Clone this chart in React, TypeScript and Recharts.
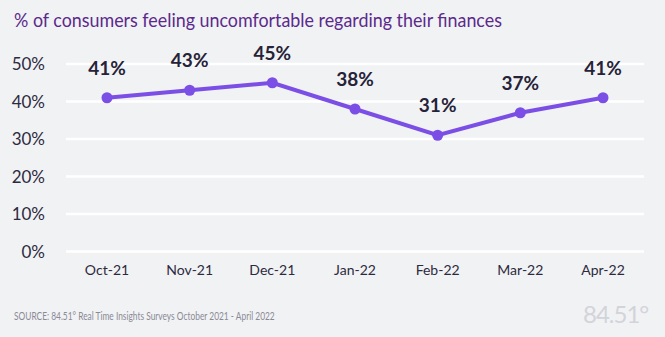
import React from "react";
import { LineChart, Line, XAxis, YAxis, CartesianGrid, LabelList } from "recharts";

const months = ["Oct-21", "Nov-21", "Dec-21", "Jan-22", "Feb-22", "Mar-22", "Apr-22"];
const uncomfortable = [41, 43, 45, 38, 31, 37, 41];
const yTicks = [0, 10, 20, 30, 40, 50];

const data = months.map((m, i) => ({ month: m, value: uncomfortable[i] }));

const FONT = "Lato, 'Open Sans', sans-serif";

export default function App() {
  return (
    <div style={{ position: "absolute", left: 0, top: 0, width: 665, height: 337, background: "#f1f2f4", overflow: "hidden", fontFamily: FONT }}>
      <div style={{ position: "absolute", left: 14, top: 8, fontSize: 19, color: "#5b2a8c", whiteSpace: "nowrap", transform: "scaleX(0.94)", transformOrigin: "left top" }}>
        % of consumers feeling uncomfortable regarding their finances
      </div>
      <LineChart width={665} height={337} data={data} margin={{ top: 64, right: 21, bottom: 55.5, left: 0 }} style={{ position: "absolute", left: 0, top: 0 }}>
        <CartesianGrid horizontal vertical={false} stroke="#ffffff" strokeWidth={2.5} />
        <XAxis dataKey="month" axisLine={false} tickLine={false} padding={{ left: 41, right: 41 }} height={30} tickMargin={8}
          tick={{ fill: "#2d2a40", fontSize: 14, fontFamily: FONT }} interval={0} />
        <YAxis domain={[0, 50]} ticks={yTicks} axisLine={false} tickLine={false} width={66} tickMargin={15}
          tickFormatter={(v) => `${v}%`} tick={{ fill: "#2d2a40", fontSize: 17, fontFamily: FONT }} />
        <Line type="linear" dataKey="value" stroke="#7b4fe6" strokeWidth={4} isAnimationActive={false}
          dot={{ r: 5.5, fill: "#7b4fe6", stroke: "#7b4fe6", strokeWidth: 0 }}>
          <LabelList dataKey="value" position="top" offset={23} formatter={(v) => `${v}%`}
            style={{ fill: "#262238", fontSize: 19, fontWeight: 700, fontFamily: FONT }} />
        </Line>
      </LineChart>
      <div style={{ position: "absolute", left: 14, top: 309, fontSize: 11, color: "#8a8a96", whiteSpace: "nowrap", transform: "scaleX(0.76)", transformOrigin: "left top" }}>
        SOURCE: 84.51° Real Time Insights Surveys October 2021 - April 2022
      </div>
      <div style={{ position: "absolute", left: 583, top: 299, fontSize: 24, color: "#d3d4da", whiteSpace: "nowrap", letterSpacing: -1 }}>
        84.51°
      </div>
    </div>
  );
}
